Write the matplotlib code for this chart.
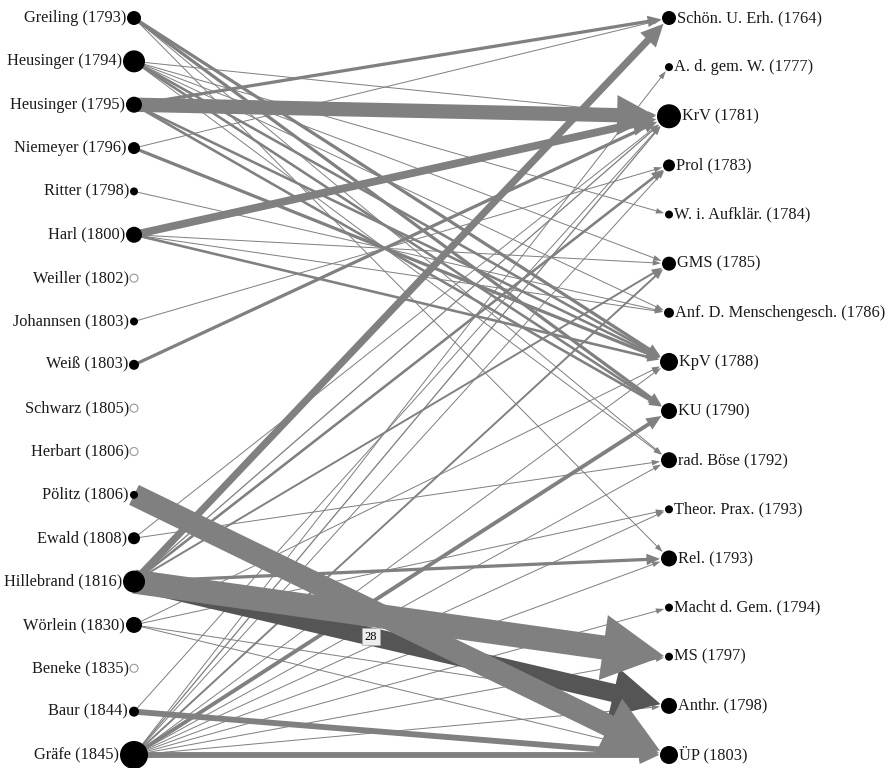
import numpy as np
import matplotlib
matplotlib.use("Agg")
import matplotlib.pyplot as plt
from matplotlib.patches import FancyArrow, Circle

# left column: authors (citing texts)
authors = ["Greiling (1793)", "Heusinger (1794)", "Heusinger (1795)", "Niemeyer (1796)",
           "Ritter (1798)", "Harl (1800)", "Weiller (1802)", "Johannsen (1803)",
           "Weiß (1803)", "Schwarz (1805)", "Herbart (1806)", "Pölitz (1806)",
           "Ewald (1808)", "Hillebrand (1816)", "Wörlein (1830)", "Beneke (1835)",
           "Baur (1844)", "Gräfe (1845)"]
author_size = [7, 11, 8, 6, 4, 8, 0, 4, 5, 0, 0, 4, 6, 11, 8, 0, 5, 14]

# right column: Kant works
works = ["Schön. U. Erh. (1764)", "A. d. gem. W. (1777)", "KrV (1781)", "Prol (1783)",
         "W. i. Aufklär. (1784)", "GMS (1785)", "Anf. D. Menschengesch. (1786)",
         "KpV (1788)", "KU (1790)", "rad. Böse (1792)", "Theor. Prax. (1793)",
         "Rel. (1793)", "Macht d. Gem. (1794)", "MS (1797)", "Anthr. (1798)", "ÜP (1803)"]
work_size = [7, 4, 12, 6, 4, 7, 5, 9, 8, 8, 4, 8, 4, 4, 8, 9]

# edges: (author, work, count)
edges = [
    ("Greiling (1793)", "KpV (1788)", 5),
    ("Greiling (1793)", "KU (1790)", 5),
    ("Greiling (1793)", "Rel. (1793)", 1),
    ("Greiling (1793)", "rad. Böse (1792)", 1),
    ("Heusinger (1794)", "KrV (1781)", 1),
    ("Heusinger (1794)", "W. i. Aufklär. (1784)", 1),
    ("Heusinger (1794)", "Anf. D. Menschengesch. (1786)", 1),
    ("Heusinger (1794)", "rad. Böse (1792)", 1),
    ("Heusinger (1794)", "KpV (1788)", 4),
    ("Heusinger (1794)", "KU (1790)", 4),
    ("Heusinger (1794)", "GMS (1785)", 1),
    ("Heusinger (1795)", "KrV (1781)", 22),
    ("Heusinger (1795)", "Schön. U. Erh. (1764)", 5),
    ("Heusinger (1795)", "KpV (1788)", 4),
    ("Heusinger (1795)", "KU (1790)", 4),
    ("Niemeyer (1796)", "Schön. U. Erh. (1764)", 1),
    ("Niemeyer (1796)", "KpV (1788)", 5),
    ("Ritter (1798)", "Anf. D. Menschengesch. (1786)", 1),
    ("Harl (1800)", "KrV (1781)", 12),
    ("Harl (1800)", "KpV (1788)", 4),
    ("Harl (1800)", "GMS (1785)", 1),
    ("Harl (1800)", "Anf. D. Menschengesch. (1786)", 1),
    ("Johannsen (1803)", "Prol (1783)", 1),
    ("Weiß (1803)", "KrV (1781)", 5),
    ("Pölitz (1806)", "ÜP (1803)", 34),
    ("Ewald (1808)", "rad. Böse (1792)", 1),
    ("Ewald (1808)", "KrV (1781)", 1),
    ("Hillebrand (1816)", "Schön. U. Erh. (1764)", 11),
    ("Hillebrand (1816)", "MS (1797)", 37),
    ("Hillebrand (1816)", "Anthr. (1798)", 28),
    ("Hillebrand (1816)", "Rel. (1793)", 5),
    ("Hillebrand (1816)", "Prol (1783)", 4),
    ("Hillebrand (1816)", "GMS (1785)", 3),
    ("Hillebrand (1816)", "KrV (1781)", 2),
    ("Wörlein (1830)", "Theor. Prax. (1793)", 1),
    ("Wörlein (1830)", "Anthr. (1798)", 1),
    ("Wörlein (1830)", "ÜP (1803)", 1),
    ("Wörlein (1830)", "KpV (1788)", 1),
    ("Baur (1844)", "ÜP (1803)", 9),
    ("Baur (1844)", "KrV (1781)", 1),
    ("Gräfe (1845)", "ÜP (1803)", 9),
    ("Gräfe (1845)", "KU (1790)", 6),
    ("Gräfe (1845)", "KrV (1781)", 2),
    ("Gräfe (1845)", "GMS (1785)", 3),
    ("Gräfe (1845)", "Prol (1783)", 1),
    ("Gräfe (1845)", "KpV (1788)", 1),
    ("Gräfe (1845)", "A. d. gem. W. (1777)", 1),
    ("Gräfe (1845)", "rad. Böse (1792)", 1),
    ("Gräfe (1845)", "Rel. (1793)", 1),
    ("Gräfe (1845)", "Theor. Prax. (1793)", 1),
    ("Gräfe (1845)", "Macht d. Gem. (1794)", 1),
    ("Gräfe (1845)", "MS (1797)", 1),
    ("Gräfe (1845)", "Anthr. (1798)", 1),
]
highlight = ("Hillebrand (1816)", "Anthr. (1798)")

W, H = 890, 768
X_LEFT, X_RIGHT = 134, 669
EDGE = "#808080"
EDGE_DARK = "#555555"
FONT = "Liberation Serif"

fig = plt.figure(figsize=(W / 100, H / 100), dpi=100)
ax = fig.add_axes([0, 0, 1, 1])
ax.set_xlim(0, W)
ax.set_ylim(H, 0)
ax.axis("off")

left_y = dict(zip(authors, np.linspace(18, 755, len(authors))))
right_y = dict(zip(works, np.linspace(18, 755, len(works))))
a_r = dict(zip(authors, author_size))
w_r = dict(zip(works, work_size))

# edges, thin first so the big arrows sit on top
for src, dst, n in sorted(edges, key=lambda e: e[2]):
    x0, y0 = X_LEFT, left_y[src]
    x1, y1 = X_RIGHT, right_y[dst]
    d = np.hypot(x1 - x0, y1 - y0)
    ux, uy = (x1 - x0) / d, (y1 - y0) / d
    r = w_r[dst] + 1
    ex, ey = x1 - ux * r, y1 - uy * r
    w = max(1.0, 0.65 * n)
    hw = 2.6 * w + 3
    hl = 2.3 * w + 6
    col = EDGE_DARK if (src, dst) == highlight else EDGE
    ax.add_patch(FancyArrow(x0, y0, ex - x0, ey - y0, width=w, head_width=hw,
                            head_length=hl, length_includes_head=True,
                            color=col, lw=0, zorder=2))
    if (src, dst) == highlight:
        t = 0.45
        ax.text(x0 + (ex - x0) * t, y0 + (ey - y0) * t, str(n), fontsize=9,
                family=FONT, ha="center", va="center", zorder=6,
                bbox=dict(boxstyle="square,pad=0.2", fc="#eeeeee", ec="#aaaaaa", lw=0.5))

# nodes and labels
for name in authors:
    y, r = left_y[name], a_r[name]
    if r == 0:
        ax.add_patch(Circle((X_LEFT, y), 4, fc="white", ec="#999999", lw=0.8, zorder=5))
        r = 4
    else:
        ax.add_patch(Circle((X_LEFT, y), r, fc="black", ec="none", zorder=5))
    ax.text(X_LEFT - r - 1, y, name, ha="right", va="center", fontsize=11.8,
            family=FONT, color="#1a1a1a", zorder=6)

for name in works:
    y, r = right_y[name], w_r[name]
    ax.add_patch(Circle((X_RIGHT, y), r, fc="black", ec="none", zorder=5))
    ax.text(X_RIGHT + r + 1, y, name, ha="left", va="center", fontsize=11.8,
            family=FONT, color="#1a1a1a", zorder=6)

fig.savefig("out.png", dpi=100, facecolor="white")
